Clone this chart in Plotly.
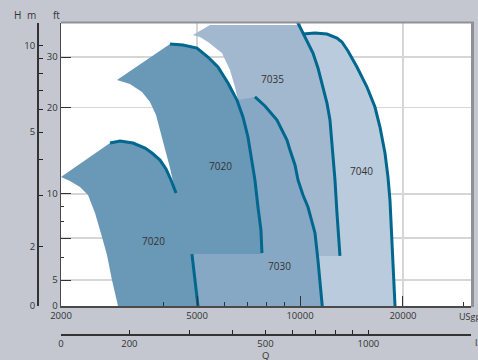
import math
import plotly.graph_objects as go

# ---------------- data (Q in USgpm, H in ft) ----------------
q_min, q_max = 2000, 31623
h_min, h_max = 4.058, 39.43
M_PER_FT = 0.3048
GPM_PER_LS = 15.8503

# pump curves
c7040_q = [10201, 11059, 11989, 12824, 13263, 13810, 14673, 15697, 16565, 17132, 17719, 18080, 18325, 18573, 18952, 18990]
c7040_h = [36.09, 36.38, 36.09, 34.94, 33.84, 31.48, 27.69, 23.57, 20.07, 17.09, 13.87, 11.44, 9.51, 6.90, 4.058, 3.9]

c7035_q = [9831, 10339, 10911, 11284, 11670, 11989, 12234, 12484, 12653, 12824, 13086]
c7035_h = [39.73, 35.23, 30.98, 27.47, 23.57, 20.73, 18.09, 13.87, 11.17, 8.57, 6.07]

c7030_q = [7382, 7897, 8562, 9159, 9346, 9667, 9864, 10201, 10550, 11059, 11284, 11437, 11592, 11650]
c7030_h = [21.76, 20.24, 18.09, 15.40, 14.21, 12.60, 11.17, 9.90, 8.99, 7.30, 5.87, 4.88, 4.058, 3.9]

c7020b_q = [4167, 4547, 4997, 5380, 5755, 6156, 6540, 6810, 7043, 7187, 7382, 7534, 7687, 7739]
c7020b_h = [33.30, 33.03, 32.25, 30.00, 27.69, 24.34, 21.24, 18.53, 15.78, 13.65, 11.17, 8.99, 7.47, 6.21]

c7020s_q = [2782, 2976, 3248, 3522, 3691, 3896, 4056, 4195, 4338]
c7020s_h = [15.03, 15.28, 15.03, 14.44, 13.87, 13.11, 12.20, 11.17, 10.06]

c7020s_low_q = [4831, 4930, 5030, 5050]
c7020s_low_h = [6.16, 5.00, 4.058, 3.9]

# remaining region outlines
e7040_q = [10500, 10000]
e7040_h = [3.9, 20.0]

e7035_q = [11000, 8000, 6584, 6453, 6239, 5912, 5380, 5098, 4864, 5453, 9800]
e7035_h = [6.07, 15.0, 21.24, 23.57, 27.03, 30.98, 33.84, 35.23, 35.80, 38.80, 38.80]

e7030_top_q = [6584]
e7030_top_h = [21.24]
e7030_q = [5098, 6033]
e7030_h = [9.51, 18.09]

# 7020 (large) left edge, from the tip of the small curve up to the top-left corner
e7020b_left_q = [4309, 4167, 4029, 3896, 3792, 3642, 3451, 3182, 2916]
e7020b_left_h = [10.30, 12.30, 14.21, 16.69, 18.83, 20.90, 22.65, 24.15, 24.94]
# 7020 lower edge between the two curves
e7020_floor_q = [7739, 4831]
e7020_floor_h = [6.16, 6.16]
# 7020 (small) outer edge
e7020s_start_q = [2000]
e7020s_start_h = [11.44]
e7020s_q = [2940, 2936, 2819, 2726, 2636, 2515, 2399, 2273, 2125, 2000]
e7020s_h = [3.9, 4.058, 5.00, 6.11, 7.07, 8.57, 9.90, 10.56, 11.08, 11.44]

labels = ["7020", "7020", "7035", "7030", "7040"]
label_q = [3716, 5873, 8334, 8738, 15178]
label_h = [6.84, 12.50, 25.14, 5.60, 12.00]

gpm_major = [2000, 5000, 10000, 20000]
gpm_minor = [4000, 6000, 7000, 8000, 9000, 30000]
ft_major = [h_min, 5, 7, 10, 20, 30]
ft_major_text = ["0", "5", "", "10", "20", "30"]
ft_minor = [6, 8, 9]
m_ticks = [h_min * M_PER_FT, 2, 3, 4, 5, 6, 7, 8, 9, 10]
m_text = ["0", "2", "", "", "5", "", "", "", "", "10"]
ls_ticks = [q_min / GPM_PER_LS, 200, 300, 400, 500, 600, 700, 800, 900, 1000, q_max / GPM_PER_LS]
ls_text = ["0", "200", "", "", "500", "", "", "", "", "1000", ""]

# ---------------- styles ----------------
C_BG = "#c4c7cf"
C_7020 = "#6a98b7"
C_7030 = "#87a8c4"
C_7035 = "#a2b8cf"
C_7040 = "#bacbdd"
C_LINE = "#00678e"
C_TXT = "#333333"
FONT = "Open Sans"

fig = go.Figure()

def region(qs, hs, color):
    fig.add_trace(go.Scatter(x=qs, y=hs, mode="lines", line=dict(width=0, color=color),
                             fill="toself", fillcolor=color, hoverinfo="skip", showlegend=False))

region(c7040_q + e7040_q, c7040_h + e7040_h, C_7040)
region(c7035_q + e7035_q, c7035_h + e7035_h, C_7035)
region(e7030_top_q + c7030_q + c7020s_low_q[::-1] + e7030_q,
       e7030_top_h + c7030_h + c7020s_low_h[::-1] + e7030_h, C_7030)
region(e7020s_start_q + c7020s_q + e7020b_left_q + c7020b_q + e7020_floor_q + c7020s_low_q[1:] + e7020s_q,
       e7020s_start_h + c7020s_h + e7020b_left_h + c7020b_h + e7020_floor_h + c7020s_low_h[1:] + e7020s_h,
       C_7020)

for qs, hs in [(c7040_q, c7040_h), (c7035_q, c7035_h), (c7030_q, c7030_h),
               (c7020b_q, c7020b_h), (c7020s_q, c7020s_h), (c7020s_low_q, c7020s_low_h)]:
    fig.add_trace(go.Scatter(x=qs, y=hs, mode="lines", line=dict(width=3, color=C_LINE),
                             hoverinfo="skip", showlegend=False))

# invisible trace to carry the secondary (l/s, m) axes
fig.add_trace(go.Scatter(x=[500], y=[5], xaxis="x2", yaxis="y2", mode="markers",
                         marker=dict(opacity=0), hoverinfo="skip", showlegend=False))

for t, q, h in zip(labels, label_q, label_h):
    fig.add_annotation(x=math.log10(q), y=math.log10(h), text=t, showarrow=False,
                       font=dict(family=FONT, size=10, color=C_TXT))

W, H = 478, 360
ml, mr, mt, mb = 37, 7, 23, 26
pw, ph = W - ml - mr, H - mt - mb

def px(x):
    return (x - ml) / pw

def py(y):
    return (H - mb - y) / ph

tick_font = dict(family=FONT, size=9.5, color=C_TXT)

fig.update_layout(
    width=W, height=H, autosize=False,
    margin=dict(l=ml, r=mr, t=mt, b=mb, pad=0),
    paper_bgcolor=C_BG, plot_bgcolor="white",
    showlegend=False,
    xaxis=dict(type="log", range=[math.log10(q_min), math.log10(q_max)],
               domain=[px(61), 1], anchor="y",
               tickmode="array", tickvals=gpm_major, ticktext=[str(v) for v in gpm_major],
               ticks="inside", ticklen=10, tickwidth=1, tickcolor="#333",
               minor=dict(tickmode="array", tickvals=gpm_minor, ticks="inside", ticklen=4,
                          tickcolor="#333", showgrid=False),
               showgrid=True, gridcolor="#d6d6d6", gridwidth=1.5,
               showline=True, linecolor="#4a4a4a", linewidth=1.5, zeroline=False,
               tickfont=tick_font),
    yaxis=dict(type="log", range=[math.log10(h_min), math.log10(h_max)],
               domain=[py(306), 1], anchor="x",
               tickmode="array", tickvals=ft_major, ticktext=ft_major_text,
               ticks="inside", ticklen=10, tickwidth=1, tickcolor="#333",
               minor=dict(tickmode="array", tickvals=ft_minor, ticks="inside", ticklen=3,
                          tickcolor="#333", showgrid=False),
               showgrid=True, gridcolor="#d6d6d6", gridwidth=1.5,
               showline=True, linecolor="#4a4a4a", linewidth=1.5, zeroline=False,
               tickfont=tick_font),
    xaxis2=dict(type="log", overlaying="x", anchor="free", position=0, side="bottom",
                range=[math.log10(q_min / GPM_PER_LS), math.log10(q_max / GPM_PER_LS)],
                tickmode="array", tickvals=ls_ticks, ticktext=ls_text,
                ticks="inside", ticklen=4, tickcolor="#222",
                showgrid=False, zeroline=False,
                showline=True, linecolor="#333", linewidth=1.5, tickfont=tick_font),
    yaxis2=dict(type="log", overlaying="y", anchor="free", position=0, side="left",
                range=[math.log10(h_min * M_PER_FT), math.log10(h_max * M_PER_FT)],
                tickmode="array", tickvals=m_ticks, ticktext=m_text,
                ticks="inside", ticklen=4, tickcolor="#222",
                showgrid=False, zeroline=False,
                showline=True, linecolor="#333", linewidth=1.5, tickfont=tick_font),
    shapes=[
        dict(type="line", xref="paper", yref="paper", x0=px(61), x1=px(474), y0=py(22.5), y1=py(22.5),
             line=dict(color="#8e9298", width=2), layer="above"),
        dict(type="line", xref="paper", yref="paper", x0=px(472.5), x1=px(472.5), y0=py(307), y1=py(22),
             line=dict(color="#8e9298", width=3), layer="above"),
    ],
)

for t, x, y, anchor, size in [("H", 17, 15, "center", 10), ("m", 31, 15, "center", 10),
                              ("ft", 56, 15, "center", 10), ("USgpm", 457, 316, "left", 9),
                              ("l/s", 473, 342, "left", 9.5), ("Q", 265, 355.5, "center", 9.5)]:
    fig.add_annotation(xref="paper", yref="paper", x=px(x), y=py(y), text=t, showarrow=False,
                       xanchor=anchor, yanchor="middle",
                       font=dict(family=FONT, size=size, color=C_TXT))

fig.write_html(
    "out.html",
    config={"displayModeBar": False, "staticPlot": True},
    post_script=(
        "document.body.style.margin='0';"
        "document.body.style.padding='0';"
        "document.body.style.background='" + C_BG + "';"
        "document.body.style.overflow='hidden';"
    ),
)
